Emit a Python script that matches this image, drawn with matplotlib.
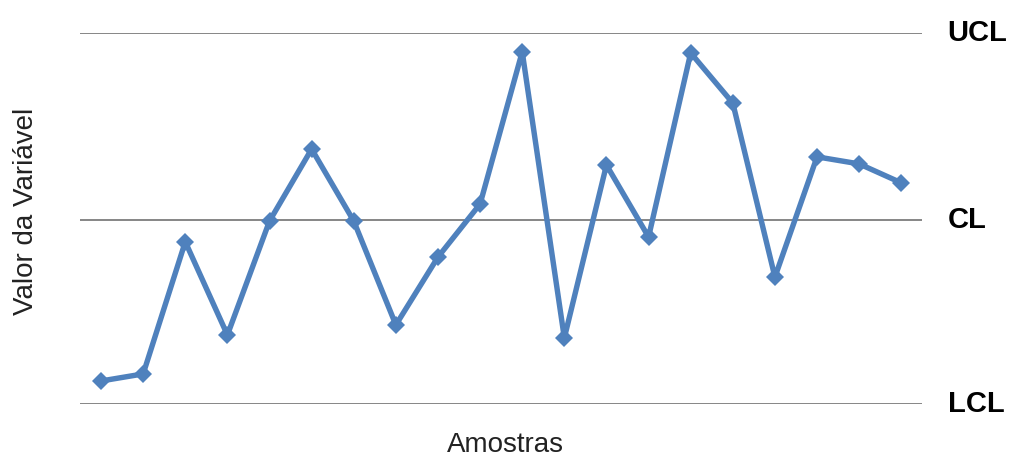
import matplotlib
matplotlib.use('Agg')
import matplotlib.pyplot as plt

# amostras e valores (escala arbitraria: LCL=0, UCL=100)
amostras = list(range(1, 21))
valores = [6.2, 8.1, 43.7, 18.6, 49.3, 68.7, 49.3, 21.3, 39.6, 53.9,
           94.9, 17.8, 64.4, 45.0, 94.6, 81.1, 34.2, 66.6, 64.7, 59.6]

limites = {'UCL': 100.0, 'CL': 49.6, 'LCL': 0.0}

plt.rcParams['font.family'] = ['Liberation Sans', 'DejaVu Sans']

fig = plt.figure(figsize=(10.10, 4.57), dpi=100)
ax = fig.add_axes([0.0792, 0.116, 0.834, 0.812])

# linhas de controle
for nome, y in limites.items():
    ax.axhline(y, color='#868686', lw=1.4, zorder=1)
    ax.text(1.03, y, nome, transform=ax.get_yaxis_transform(),
            ha='left', va='center', fontsize=21, fontweight='bold', color='black')

ax.plot(amostras, valores, color='#4f81bd', lw=3.9, marker='D', markersize=9.5,
        markeredgewidth=0, zorder=3)

ax.set_xlim(0.5, 20.5)
ax.set_ylim(0, 100)
ax.set_xticks([])
ax.set_yticks([])
for s in ax.spines.values():
    s.set_visible(False)

fig.text(0.5, 0.01, 'Amostras', ha='center', va='baseline', fontsize=20, color='#222222')
fig.text(0.026, 0.538, 'Valor da Variável', ha='center', va='center', rotation=90,
         fontsize=20, color='#222222')

fig.savefig('out.png', dpi=100)
